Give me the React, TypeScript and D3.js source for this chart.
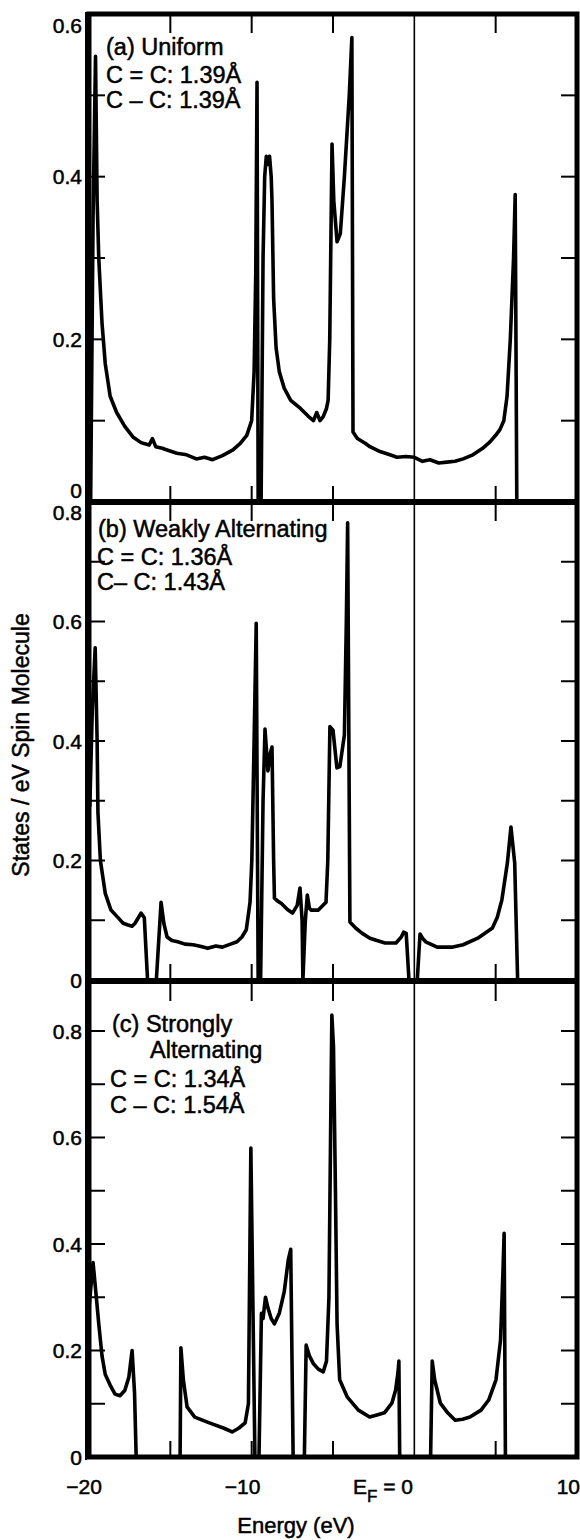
import React from "react";
import * as d3 from "d3";

// panel (a) uniform
const energyA = [-19.9, -19.75, -19.6, -19.5, -19.4, -19.2, -19.0, -18.7, -18.3, -17.8, -17.3, -16.8, -16.3, -16.1, -15.9, -15.5, -15.2, -14.6, -14.0, -13.4, -12.9, -12.4, -11.8, -11.15, -10.7, -10.3, -10.0, -9.85, -9.75, -9.67, -9.6, -9.42, -9.3, -9.2, -9.1, -9.0, -8.9, -8.8, -8.75, -8.65, -8.5, -8.3, -8.0, -7.6, -7.0, -6.5, -6.2, -6.0, -5.8, -5.6, -5.4, -5.3, -5.2, -5.06, -4.95, -4.75, -4.55, -4.3, -4.0, -3.84, -3.77, -3.5, -3.0, -2.73, -2.11, -1.5, -1.07, -0.5, 0, 0.5, 0.96, 1.5, 2.0, 2.5, 3.0, 3.6, 4.2, 4.65, 5.0, 5.26, 5.5, 5.7, 5.9, 6.1, 6.2, 6.3, 10];
const dosA = [0, 0.35, 0.548, 0.37, 0.3, 0.22, 0.17, 0.13, 0.11, 0.093, 0.08, 0.073, 0.07, 0.078, 0.068, 0.066, 0.064, 0.06, 0.058, 0.053, 0.055, 0.052, 0.057, 0.064, 0.072, 0.082, 0.1, 0.16, 0.28, 0.516, 0, 0, 0.3, 0.4, 0.425, 0.415, 0.425, 0.4, 0.37, 0.25, 0.19, 0.16, 0.14, 0.125, 0.115, 0.105, 0.1, 0.11, 0.1, 0.105, 0.115, 0.125, 0.2, 0.44, 0.37, 0.32, 0.33, 0.4, 0.5, 0.571, 0.086, 0.078, 0.072, 0.068, 0.062, 0.058, 0.055, 0.056, 0.055, 0.05, 0.052, 0.048, 0.049, 0.05, 0.053, 0.058, 0.066, 0.074, 0.082, 0.089, 0.1, 0.13, 0.2, 0.3, 0.378, 0, 0];

// panel (b) weakly alternating
const energyB = [-19.95, -19.8, -19.62, -19.5, -19.45, -19.3, -19.0, -18.65, -18.2, -17.9, -17.6, -17.35, -17.17, -16.95, -16.8, -16.6, -16.4, -15.86, -15.57, -15.4, -15.2, -14.9, -14.55, -14.1, -13.6, -13.1, -12.7, -12.2, -11.8, -11.3, -10.9, -10.6, -10.33, -10.1, -9.99, -9.85, -9.72, -9.6, -9.45, -9.3, -9.18, -9.0, -8.85, -8.75, -8.65, -8.6, -8.4, -8.17, -7.8, -7.49, -7.2, -7.03, -6.9, -6.85, -6.7, -6.58, -6.45, -6.35, -5.9, -5.43, -5.32, -5.19, -5.0, -4.76, -4.58, -4.3, -4.18, -4.1, -3.96, -3.61, -3.2, -2.73, -2.3, -1.8, -1.13, -0.8, -0.66, -0.5, -0.33, 0.18, 0.35, 0.5, 0.7, 1.4, 2.3, 3.0, 3.9, 4.8, 5.1, 5.38, 5.72, 5.94, 6.17, 6.35, 10];
const dosB = [0.29, 0.45, 0.556, 0.4, 0.28, 0.2, 0.145, 0.117, 0.104, 0.095, 0.092, 0.09, 0.095, 0.105, 0.112, 0.104, 0, 0, 0.13, 0.095, 0.072, 0.066, 0.064, 0.06, 0.059, 0.056, 0.053, 0.057, 0.055, 0.06, 0.064, 0.072, 0.084, 0.13, 0.2, 0.4, 0.597, 0, 0, 0.3, 0.42, 0.35, 0.38, 0.39, 0.2, 0.137, 0.132, 0.128, 0.118, 0.112, 0.125, 0.154, 0.1, 0, 0.1, 0.142, 0.12, 0.117, 0.117, 0.13, 0.2, 0.424, 0.418, 0.355, 0.357, 0.41, 0.6, 0.765, 0.097, 0.087, 0.078, 0.07, 0.066, 0.062, 0.062, 0.072, 0.08, 0.078, 0, 0, 0.077, 0.07, 0.064, 0.055, 0.055, 0.059, 0.07, 0.087, 0.105, 0.134, 0.196, 0.256, 0.196, 0, 0];

// panel (c) strongly alternating
const energyC = [-20, -19.75, -19.55, -19.4, -19.2, -19.0, -18.7, -18.4, -18.1, -17.8, -17.55, -17.35, -17.2, -17.1, -14.4, -14.35, -14.2, -13.97, -13.5, -12.6, -11.7, -11.2, -10.8, -10.4, -10.2, -10.05, -9.8, -9.55, -9.4, -9.3, -9.15, -9.0, -8.8, -8.6, -8.3, -8.0, -7.75, -7.6, -7.45, -6.76, -6.65, -6.45, -6.2, -5.9, -5.6, -5.4, -5.25, -5.15, -5.07, -4.97, -4.85, -4.75, -4.59, -4.13, -3.44, -2.75, -2.3, -1.84, -1.38, -1.15, -1.0, -0.95, -0.9, 1.0, 1.1, 1.25, 1.6, 2.05, 2.51, 2.97, 3.42, 4.1, 4.57, 5.02, 5.3, 5.45, 5.52, 5.6, 10];
const dosC = [0.28, 0.365, 0.3, 0.25, 0.19, 0.155, 0.135, 0.118, 0.115, 0.125, 0.15, 0.2, 0.12, 0, 0, 0.205, 0.145, 0.094, 0.075, 0.064, 0.054, 0.047, 0.054, 0.064, 0.1, 0.58, 0, 0, 0.27, 0.26, 0.3, 0.28, 0.26, 0.25, 0.27, 0.31, 0.37, 0.39, 0, 0, 0.21, 0.19, 0.175, 0.165, 0.16, 0.18, 0.3, 0.6, 0.83, 0.77, 0.5, 0.25, 0.145, 0.113, 0.088, 0.075, 0.079, 0.083, 0.101, 0.126, 0.16, 0.18, 0, 0, 0.18, 0.145, 0.101, 0.083, 0.069, 0.071, 0.075, 0.088, 0.107, 0.145, 0.22, 0.35, 0.42, 0, 0];

const notesA = ["(a) Uniform", "C = C: 1.39Å", "C – C: 1.39Å"];
const notesB = ["(b) Weakly Alternating", "C = C: 1.36Å", "C– C: 1.43Å"];
const notesC = ["(c) Strongly", "Alternating", "C = C: 1.34Å", "C – C: 1.54Å"];

const yLabelsA = [0, 0.2, 0.4, 0.6];
const yLabelsB = [0, 0.2, 0.4, 0.6, 0.8];
const yLabelsC = [0, 0.2, 0.4, 0.6, 0.8];

const xTickValues = [-15, -10, -5, 5];
const xTickLabels = [
  { v: -20, t: "−20", anchor: "middle", dx: -5 },
  { v: -10, t: "−10", anchor: "middle", dx: -9 },
  { v: 10, t: "10", anchor: "end", dx: 3 },
];

const font = "'Liberation Sans', Arial, Helvetica, sans-serif";

const x = d3.scaleLinear().domain([-20, 10]).range([89, 577]);

const panels = [
  { energy: energyA, dos: dosA, max: 0.6, top: 14, bottom: 502, labels: yLabelsA, notes: notesA, noteX: [106, 106, 106], noteY: [55, 83, 108], topShift: 11, botShift: -12 },
  { energy: energyB, dos: dosB, max: 0.8, top: 502, bottom: 980, labels: yLabelsB, notes: notesB, noteX: [98, 97, 97], noteY: [537, 565, 590], topShift: 10, botShift: 0 },
  { energy: energyC, dos: dosC, max: 0.892, top: 982, bottom: 1457, labels: yLabelsC, notes: notesC, noteX: [112, 150, 110, 110], noteY: [1032, 1058, 1087, 1113], topShift: 0, botShift: 0 },
];

const ink = { fill: "#000", stroke: "#000", strokeWidth: 0.5 };

const App = () => {
  const [l, r] = x.range();
  return (
    <svg width={580} height={1540} style={{ position: "absolute", left: 0, top: 0, background: "#fff" }}
      fontFamily={font}>
      <rect x={0} y={0} width={580} height={1540} fill="#fff" />
      {panels.map((p, pi) => {
        const y = d3.scaleLinear().domain([0, p.max]).range([p.bottom, p.top]);
        const line = d3.line<number>().x((_, i) => x(p.energy[i])).y(d => y(d));
        const yt = d3.range(1, Math.ceil(p.max * 10 - 0.01)).map(i => i / 10);
        return (
          <g key={pi}>
            <path d={line(p.dos) || ""} fill="none" stroke="#000" strokeWidth={3.6} strokeLinejoin="round" />
            {yt.map(v => (
              <g key={v}>
                <line x1={l} x2={l + 16} y1={y(v)} y2={y(v)} stroke="#000" strokeWidth={2} />
                <line x1={r - 16} x2={r} y1={y(v)} y2={y(v)} stroke="#000" strokeWidth={2} />
              </g>
            ))}
            {xTickValues.map(v => (
              <g key={v}>
                <line x1={x(v)} x2={x(v)} y1={p.top} y2={p.top + 19} stroke="#000" strokeWidth={2} />
                <line x1={x(v)} x2={x(v)} y1={p.bottom - 16} y2={p.bottom} stroke="#000" strokeWidth={2} />
              </g>
            ))}
            {p.labels.map((v, i) => {
              let yy = y(v);
              if (i === p.labels.length - 1 && Math.abs(v - p.max) < 0.001) yy += p.topShift;
              if (v === 0) yy += p.botShift;
              return (
                <text key={v} x={82} y={yy} dy="0.36em" textAnchor="end" fontSize={21} {...ink}>
                  {v === 0 ? "0" : v.toFixed(1)}
                </text>
              );
            })}
            {p.notes.map((t, i) => (
              <text key={t} x={p.noteX[i]} y={p.noteY[i]} fontSize={23.5} {...ink}>{t}</text>
            ))}
          </g>
        );
      })}
      {/* Fermi level */}
      <line x1={x(0)} x2={x(0)} y1={14} y2={1457} stroke="#000" strokeWidth={1.6} />
      {/* frame */}
      <rect x={l} y={14} width={r - l} height={1457 - 14} fill="none" stroke="#000" strokeWidth={5} />
      <line x1={l - 3} x2={l - 3} y1={12} y2={1460} stroke="#000" strokeWidth={2} />
      <line x1={l} x2={r} y1={502} y2={502} stroke="#000" strokeWidth={6} />
      <line x1={l} x2={r} y1={981} y2={981} stroke="#000" strokeWidth={6} />
      {xTickLabels.map(d => (
        <text key={d.v} x={x(d.v) + d.dx} y={1494} textAnchor={d.anchor} fontSize={21} {...ink}>{d.t}</text>
      ))}
      <text x={353} y={1494} fontSize={21} {...ink}>
        E<tspan fontSize={17} dy={8}>F</tspan><tspan dy={-8}> = 0</tspan>
      </text>
      <text x={296} y={1533} textAnchor="middle" fontSize={22} {...ink}>Energy (eV)</text>
      <text transform="translate(29,745) rotate(-90)" textAnchor="middle" fontSize={23} {...ink}>
        States / eV Spin Molecule
      </text>
    </svg>
  );
};

export default App;
